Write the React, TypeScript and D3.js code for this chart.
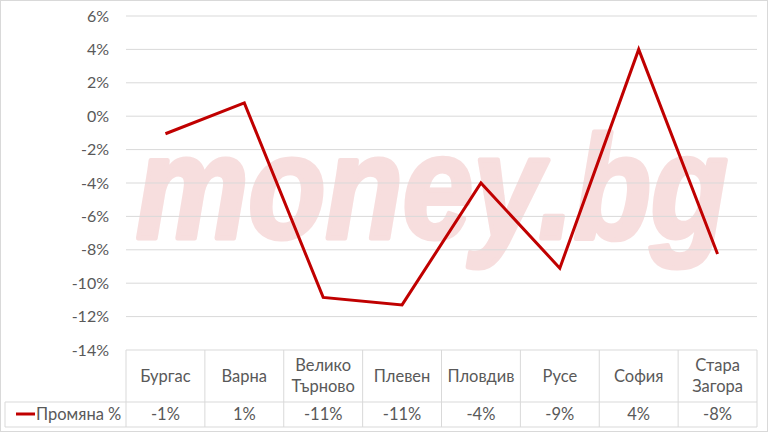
import React from "react";
import * as d3 from "d3";

const categories: string[][] = [
  ["Бургас"],
  ["Варна"],
  ["Велико", "Търново"],
  ["Плевен"],
  ["Пловдив"],
  ["Русе"],
  ["София"],
  ["Стара", "Загора"],
];
const values: number[] = [-1.05, 0.8, -10.85, -11.3, -4.0, -9.1, 4.0, -8.25];
const valueLabels: string[] = ["-1%", "1%", "-11%", "-11%", "-4%", "-9%", "4%", "-8%"];
const yTicks: number[] = [6, 4, 2, 0, -2, -4, -6, -8, -10, -12, -14];
const seriesName = "Промяна %";

const W = 768;
const H = 432;
const FONT = "Lato, 'Open Sans', sans-serif";

export default function App() {
  const left = 126;
  const right = 757;
  const top = 16;
  const bottom = 350;
  const catRowBottom = 402;
  const valRowBottom = 427;
  const legendLeft = 5;

  const x = d3
    .scaleBand<number>()
    .domain(d3.range(categories.length))
    .range([left, right]);
  const y = d3.scaleLinear().domain([-14, 6]).range([bottom, top]);

  const line = d3
    .line<number>()
    .x((_, i) => (x(i) as number) + x.bandwidth() / 2)
    .y((d) => y(d));

  const grid = "#d9d9d9";
  const txt = "#595959";

  return (
    <svg
      width={W}
      height={H}
      style={{ position: "absolute", left: 0, top: 0 }}
      fontFamily={FONT}
    >
      <rect x={0.5} y={0.5} width={W - 1} height={H - 1} fill="#fff" stroke="#d9d9d9" />
      {/* watermark */}
      <text
        x={136}
        y={238}
        fontSize={146}
        fontWeight="bold"
        fontStyle="italic"
        fill="#f7dede"
        stroke="#f7dede"
        strokeWidth={5}
        strokeLinejoin="round"
        textLength={592}
        lengthAdjust="spacingAndGlyphs"
        fontFamily="'Liberation Sans', Arial, sans-serif"
      >
        money.bg
      </text>
      {/* gridlines */}
      {yTicks.map((t) => (
        <line key={t} x1={left} x2={right} y1={y(t)} y2={y(t)} stroke={grid} strokeWidth={1} />
      ))}
      {yTicks.map((t) => (
        <text
          key={"l" + t}
          x={109}
          y={y(t)}
          dy="0.35em"
          textAnchor="end"
          fontSize={16}
          fill={txt}
        >
          {t}%
        </text>
      ))}
      {/* table */}
      {d3.range(categories.length + 1).map((i) => {
        const xx = i < categories.length ? (x(i) as number) : right;
        return (
          <line key={"v" + i} x1={xx} x2={xx} y1={bottom} y2={valRowBottom} stroke={grid} />
        );
      })}
      <line x1={legendLeft} x2={legendLeft} y1={catRowBottom} y2={valRowBottom} stroke={grid} />
      <line x1={legendLeft} x2={right} y1={catRowBottom} y2={catRowBottom} stroke={grid} />
      <line x1={legendLeft} x2={right} y1={valRowBottom} y2={valRowBottom} stroke={grid} />
      {categories.map((c, i) => {
        const cx = (x(i) as number) + x.bandwidth() / 2;
        const mid = (bottom + catRowBottom) / 2;
        const lh = 21;
        return (
          <text key={"c" + i} x={cx} textAnchor="middle" fontSize={16.5} fill={txt}>
            {c.map((s, j) => (
              <tspan key={j} x={cx} y={mid + (j - (c.length - 1) / 2) * lh} dy="0.35em">
                {s}
              </tspan>
            ))}
          </text>
        );
      })}
      {valueLabels.map((v, i) => (
        <text
          key={"vl" + i}
          x={(x(i) as number) + x.bandwidth() / 2}
          y={(catRowBottom + valRowBottom) / 2}
          dy="0.35em"
          textAnchor="middle"
          fontSize={16.5}
          fill={txt}
        >
          {v}
        </text>
      ))}
      <line x1={16} x2={35} y1={414} y2={414} stroke="#c00000" strokeWidth={3} />
      <text x={36} y={414} dy="0.35em" fontSize={16.5} fill={txt}>
        {seriesName}
      </text>
      {/* series line */}
      <path
        d={line(values) || ""}
        fill="none"
        stroke="#c00000"
        strokeWidth={3}
        strokeLinejoin="miter"
      />
    </svg>
  );
}
